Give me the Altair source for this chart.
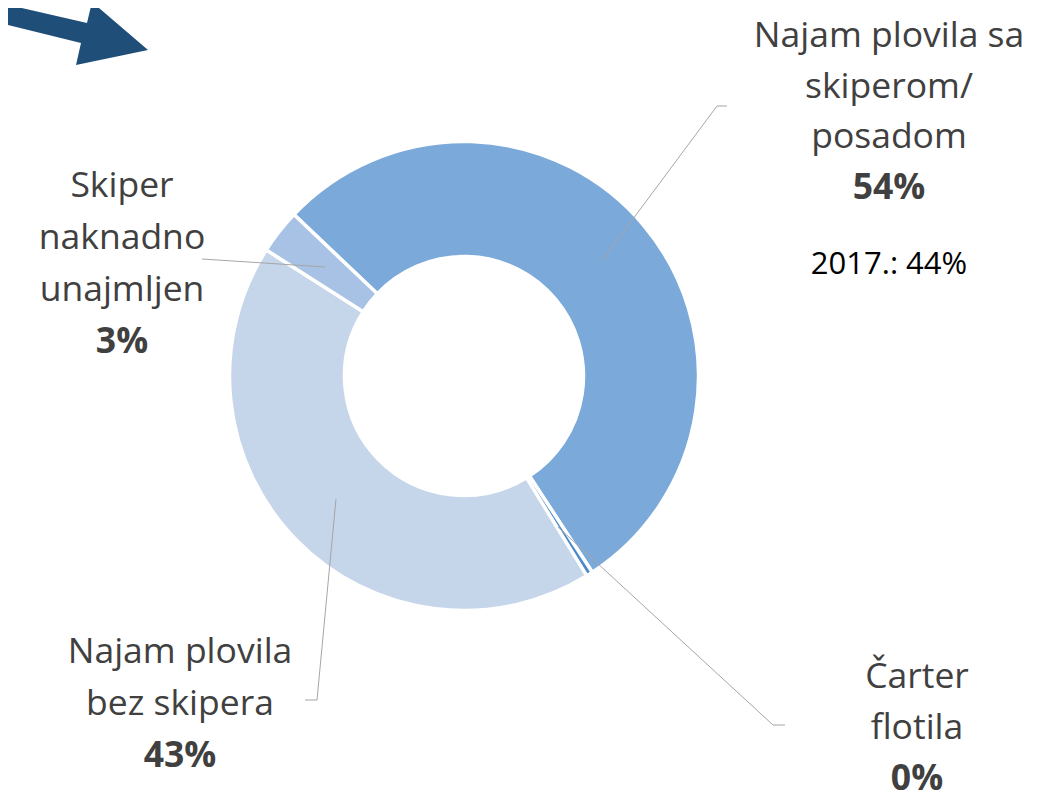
import math
import altair as alt
import pandas as pd

# ---------------- data ----------------
categories = [
    "Najam plovila sa skiperom/posadom",
    "Čarter flotila",
    "Najam plovila bez skipera",
    "Skiper naknadno unajmljen",
]
shares = [53.7, 0.45, 42.8, 3.05]
pct_labels = ["54%", "0%", "43%", "3%"]
name_lines = [
    ["Najam plovila sa", "skiperom/", "posadom"],
    ["Čarter", "flotila"],
    ["Najam plovila", "bez skipera"],
    ["Skiper", "naknadno", "unajmljen"],
]
note_text = "2017.: 44%"

# ---------------- styles / layout ----------------
colors = ["#7BA9D9", "#4D8BCB", "#C5D5EA", "#A7C2E4"]
W, H = 1022, 787
OFF = 8  # page margin
cx, cy = 464 - OFF, 376 - OFF
R_OUT, R_IN = 234.5, 119.5
start = math.radians(313.5) - 2 * math.pi
FONT = "Open Sans"
FS = 35.5
TXT = "#404040"

# label block anchors (page px): center x, first baseline, line step
label_pos = [
    (889, 47, 50.5),
    (917, 688, 51),
    (180, 663, 52),
    (122, 197, 52),
]
note_pos = (889, 274)
leaders = [
    [(601, 262), (717, 106), (727, 106)],
    [(558, 527), (773, 725), (785, 725)],
    [(336, 499), (317, 700), (305, 700)],
    [(325, 267), (202, 259)],
]
arrow_pts = [(0, 3), (87, 23), (92, 2), (148, 50), (76, 65), (81, 43), (0, 23)]

# ---------------- tables ----------------
pie = pd.DataFrame({"cat": categories, "share": shares, "order": range(len(categories))})

norm_rows, bold_rows = [], []
for lines, pct, (x, y0, step) in zip(name_lines, pct_labels, label_pos):
    for i, t in enumerate(lines):
        norm_rows.append({"t": t, "x": x - OFF, "y": y0 + i * step - OFF})
    bold_rows.append({"t": pct, "x": x - OFF, "y": y0 + len(lines) * step - OFF})
norm_df = pd.DataFrame(norm_rows)
bold_df = pd.DataFrame(bold_rows)
note_df = pd.DataFrame([{"t": note_text, "x": note_pos[0] - OFF, "y": note_pos[1] - OFF}])

lead_rows = []
for k, pts in enumerate(leaders):
    for j, (x, y) in enumerate(pts):
        lead_rows.append({"k": k, "j": j, "x": x - OFF, "y": y - OFF})
lead_df = pd.DataFrame(lead_rows)

arrow_path = "M" + " L".join(f"{x - OFF},{y - OFF}" for x, y in arrow_pts) + " Z"

# ---------------- marks ----------------
donut = alt.Chart(pie).mark_arc(
    radius=R_OUT, radius2=R_IN, stroke="white", strokeWidth=3.5
).encode(
    theta=alt.Theta("share:Q", stack=True, scale=alt.Scale(range=[start, start + 2 * math.pi])),
    order=alt.Order("order:Q"),
    color=alt.Color("cat:N", scale=alt.Scale(domain=categories, range=colors), legend=None),
    x=alt.value(cx),
    y=alt.value(cy),
)

lead = alt.Chart(lead_df).mark_line(color="#A6A6A6", strokeWidth=1).encode(
    x=alt.X("x:Q", scale=None, axis=None),
    y=alt.Y("y:Q", scale=None, axis=None),
    detail="k:N",
    order="j:Q",
)

txt_norm = alt.Chart(norm_df).mark_text(
    font=FONT, fontSize=FS, color=TXT, align="center", baseline="alphabetic"
).encode(x=alt.X("x:Q", scale=None, axis=None), y=alt.Y("y:Q", scale=None, axis=None), text="t:N")

txt_bold = alt.Chart(bold_df).mark_text(
    font=FONT, fontSize=FS, color=TXT, fontWeight="bold", align="center", baseline="alphabetic"
).encode(x=alt.X("x:Q", scale=None, axis=None), y=alt.Y("y:Q", scale=None, axis=None), text="t:N")

txt_note = alt.Chart(note_df).mark_text(
    font=FONT, fontSize=31, color="#000000", align="center", baseline="alphabetic"
).encode(x=alt.X("x:Q", scale=None, axis=None), y=alt.Y("y:Q", scale=None, axis=None), text="t:N")

arrow = alt.Chart(pd.DataFrame({"a": [0]})).mark_point(
    shape=arrow_path, size=4, filled=True, color="#1F4E79", opacity=1, strokeWidth=0
).encode(x=alt.value(0), y=alt.value(0))

chart = alt.layer(donut, lead, txt_norm, txt_bold, txt_note, arrow).properties(
    width=W, height=H, padding=0, autosize=alt.AutoSizeParams(type="none")
).configure_view(stroke=None)

chart.save("out.html", embed_options={"renderer": "svg", "actions": False})
